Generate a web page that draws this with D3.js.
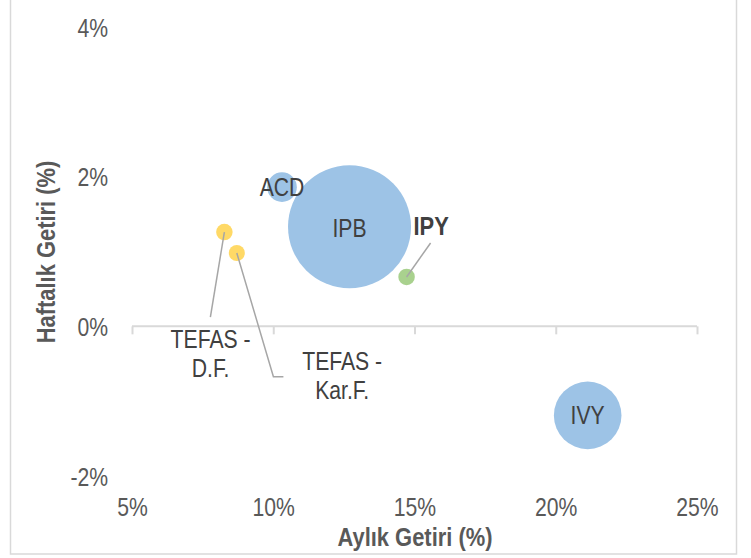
<!DOCTYPE html>
<html>
<head>
<meta charset="utf-8">
<script src="https://cdn.jsdelivr.net/npm/d3@7"></script>
<style>
  html, body { margin: 0; padding: 0; background: #fff; }
  svg { display: block; }
  text { font-family: "Liberation Sans", Arial, sans-serif; }
</style>
</head>
<body>
<svg id="chart" width="751" height="558"></svg>
<script>
// ---- data ----
const names   = ["ACD", "IPB", "IVY", "IPY", "TEFAS - D.F.", "TEFAS - Kar.F."];
const monthly = [10.31, 12.70, 21.13, 14.72, 8.27, 8.71];   // Aylık Getiri (%)
const weekly  = [1.86, 1.33, -1.19, 0.66, 1.26, 0.98];      // Haftalık Getiri (%)
const sizes   = [5.8, 100, 30.2, 1.8, 1.8, 1.7];            // bubble size
const groups  = ["fund", "fund", "fund", "ipy", "tefas", "tefas"];
const xTicks  = [5, 10, 15, 20, 25];
const yTicks  = [-2, 0, 2, 4];
const xTitle  = "Aylık Getiri (%)";
const yTitle  = "Haftalık Getiri (%)";

// ---- styles ----
const colors = { fund: "#9dc3e6", ipy: "#a9d18e", tefas: "#ffd966" };
const FONT = '"Liberation Sans", Arial, sans-serif';
const FS = 25.5;
const svg = d3.select("#chart");

// make text narrow (Arial Narrow look) by horizontal scaling around its x anchor
function narrow(sel, k = 0.83) {
  sel.each(function () {
    const xx = +this.getAttribute("x") || 0;
    const prev = this.getAttribute("transform") || "";
    this.setAttribute("transform", `${prev} translate(${xx},0) scale(${k},1) translate(${-xx},0)`);
  });
}

// outer border
svg.append("rect").attr("x", 10.5).attr("y", -5).attr("width", 726).attr("height", 559)
  .attr("fill", "none").attr("stroke", "#d9d9d9").attr("stroke-width", 1.5);

const x = d3.scaleLinear().domain([5, 25]).range([132, 697]);
const y = d3.scaleLinear().domain([-2, 4]).range([476, 27]);
const r = d3.scaleSqrt().domain([0, 100]).range([0, 61.5]);

// x axis at y=0
const xAxis = d3.axisBottom(x).tickValues(xTicks).tickSize(8).tickFormat("");
const gx = svg.append("g").attr("transform", `translate(0,${y(0)})`).call(xAxis);
gx.select(".domain").attr("stroke", "#d9d9d9").attr("stroke-width", 2).attr("d", `M${x(5)},0H${x(25)}`);
gx.selectAll(".tick line").attr("stroke", "#d9d9d9").attr("stroke-width", 2);

// x tick labels (at bottom)
const xl = d3.axisBottom(x).tickValues(xTicks).tickSize(0).tickFormat(d => d + "%");
const gxl = svg.append("g").attr("transform", `translate(0,${496})`).call(xl);
gxl.select(".domain").remove();
gxl.selectAll("text").attr("fill", "#595959").attr("font-size", FS).attr("x", 0).attr("y", 2)
  .style("font-family", FONT).call(narrow);

// y tick labels
const yl = d3.axisLeft(y).tickValues(yTicks).tickSize(0).tickFormat(d => d + "%");
const gyl = svg.append("g").attr("transform", `translate(108,0)`).call(yl);
gyl.select(".domain").remove();
gyl.selectAll("text").attr("fill", "#595959").attr("font-size", FS).attr("x", 0).attr("dy", "0.36em")
  .style("font-family", FONT).call(narrow);

// axis titles
svg.append("text").attr("x", 415).attr("y", 546).attr("text-anchor", "middle")
  .attr("font-size", FS).attr("font-weight", "bold").attr("fill", "#595959").text(xTitle)
  .call(narrow, 0.86);
svg.append("text").attr("x", 0).attr("y", 0).attr("transform", "translate(55,252) rotate(-90)")
  .attr("text-anchor", "middle")
  .attr("font-size", FS).attr("font-weight", "bold").attr("fill", "#595959").text(yTitle)
  .call(narrow, 0.86);

const data = names.map((n, i) => ({ name: n, mx: monthly[i], wy: weekly[i], s: sizes[i], g: groups[i] }));

// leader lines (label placement offsets, in px relative to the point)
const leaders = {
  "IPY": [[24, -34], [0, 0]],
  "TEFAS - D.F.": [[0, 0], [-14, 85]],
  "TEFAS - Kar.F.": [[0, 0], [36.6, 123.7], [46.6, 123.7]]
};
const labelPos = {
  "ACD": { dx: 0, dy: 0, lines: ["ACD"] },
  "IPB": { dx: 0, dy: 1, lines: ["IPB"] },
  "IVY": { dx: 0, dy: 0, lines: ["IVY"] },
  "IPY": { dx: 24.5, dy: -51.4, lines: ["IPY"], bold: true },
  "TEFAS - D.F.": { dx: -13.8, dy: 121.7, lines: ["TEFAS -", "D.F."] },
  "TEFAS - Kar.F.": { dx: 105.4, dy: 122.9, lines: ["TEFAS -", "Kar.F."] }
};

// bubbles
svg.append("g").selectAll("circle").data(data).join("circle")
  .attr("cx", d => x(d.mx)).attr("cy", d => y(d.wy)).attr("r", d => r(d.s))
  .attr("fill", d => colors[d.g]);

// leader lines
const line = d3.line();
data.forEach(d => {
  const L = leaders[d.name];
  if (!L) return;
  const px = x(d.mx), py = y(d.wy);
  svg.append("path").attr("d", line(L.map(p => [px + p[0], py + p[1]])))
    .attr("fill", "none").attr("stroke", "#a6a6a6").attr("stroke-width", 1.5);
});

// labels
data.forEach(d => {
  const lp = labelPos[d.name];
  const px = x(d.mx) + lp.dx, py = y(d.wy) + lp.dy;
  const n = lp.lines.length, lh = 29;
  lp.lines.forEach((t, k) => {
    svg.append("text").attr("x", px).attr("y", py + (k - (n - 1) / 2) * lh + 9.1)
      .attr("text-anchor", "middle").attr("font-size", FS)
      .attr("font-weight", lp.bold ? "bold" : "normal")
      .attr("fill", "#404040").text(t).call(narrow, lp.bold ? 0.86 : 0.83);
  });
});
</script>
</body>
</html>
